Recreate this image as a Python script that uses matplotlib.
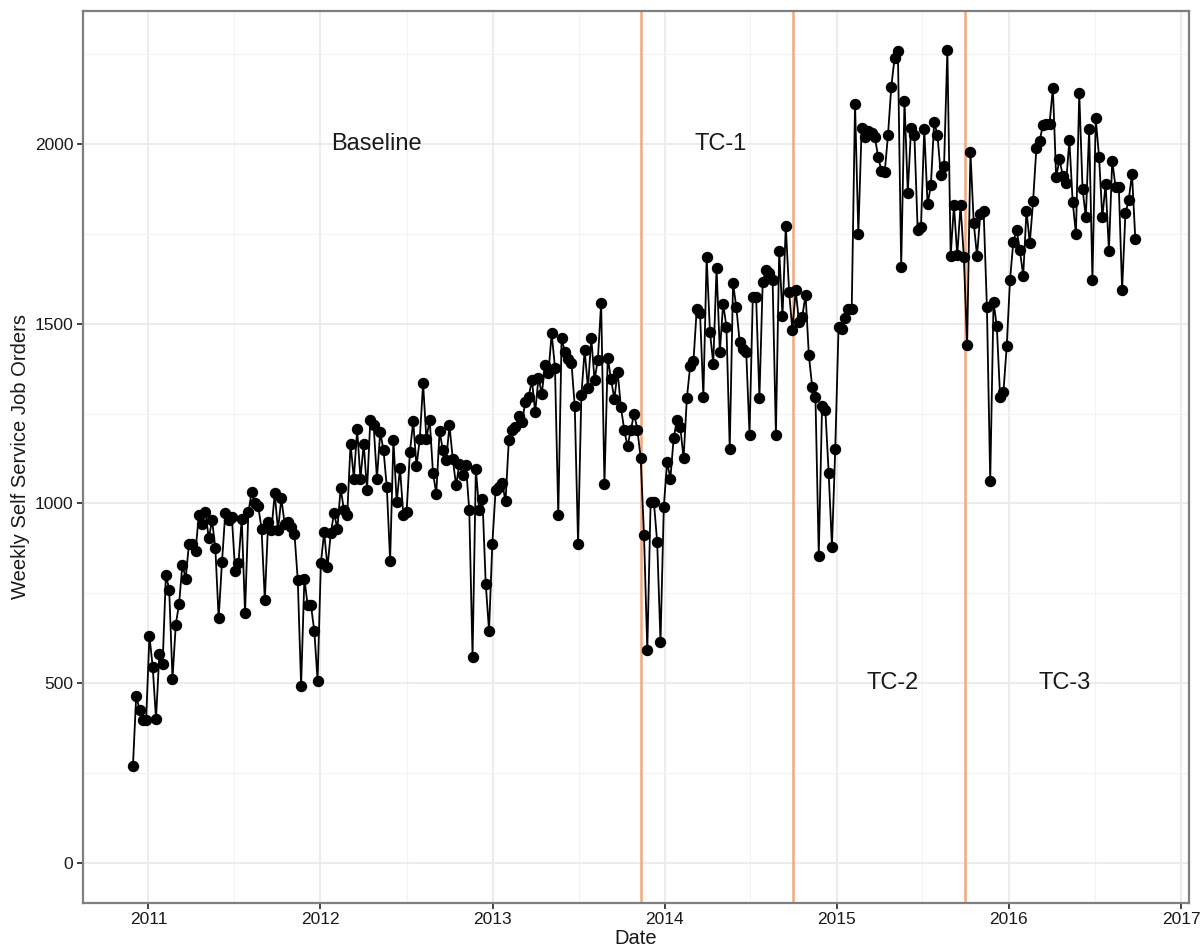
import matplotlib
matplotlib.use("Agg")
import matplotlib.pyplot as plt
import pandas as pd

plt.rcParams["font.family"] = ["Liberation Sans", "DejaVu Sans"]

# weekly self service job orders, first week starting late Nov 2010
START = "2010-11-29"
orders = [
    270, 465, 426, 396, 396, 632, 545, 400, 580, 553,
    802, 760, 512, 663, 721, 830, 791, 888, 888, 869,
    968, 944, 975, 903, 953, 875, 680, 836, 972, 955,
    961, 813, 833, 958, 694, 975, 1031, 1000, 992, 930,
    730, 947, 925, 1028, 925, 1014, 944, 947, 933, 914,
    786, 493, 791, 716, 716, 646, 507, 834, 920, 822,
    917, 974, 929, 1043, 981, 969, 1166, 1069, 1206, 1069,
    1166, 1036, 1233, 1217, 1069, 1198, 1148, 1045, 841, 1177,
    1003, 1099, 967, 976, 1143, 1229, 1103, 1180, 1334, 1180,
    1233, 1085, 1027, 1201, 1148, 1120, 1217, 1124, 1050, 1111,
    1078, 1106, 981, 572, 1097, 981, 1013, 776, 646, 888,
    1038, 1045, 1056, 1006, 1176, 1205, 1213, 1243, 1226, 1282,
    1296, 1343, 1254, 1350, 1305, 1385, 1362, 1473, 1378, 967,
    1459, 1422, 1403, 1391, 1270, 888, 1301, 1427, 1320, 1461,
    1343, 1400, 1558, 1053, 1406, 1345, 1291, 1366, 1268, 1204,
    1159, 1204, 1250, 1204, 1125, 911, 591, 1003, 1003, 892,
    614, 990, 1115, 1069, 1183, 1231, 1213, 1125, 1293, 1382,
    1396, 1542, 1529, 1296, 1685, 1477, 1389, 1654, 1422, 1556,
    1491, 1152, 1612, 1546, 1450, 1431, 1422, 1191, 1575, 1575,
    1293, 1617, 1649, 1640, 1621, 1191, 1703, 1521, 1772, 1589,
    1482, 1594, 1505, 1519, 1581, 1412, 1325, 1295, 855, 1272,
    1260, 1085, 880, 1152, 1490, 1485, 1515, 1542, 1542, 2112,
    1750, 2045, 2020, 2035, 2030, 2020, 1965, 1925, 1922, 2025,
    2160, 2240, 2258, 1658, 2120, 1865, 2045, 2025, 1760, 1770,
    2042, 1832, 1885, 2062, 2025, 1915, 1940, 2262, 1688, 1830,
    1690, 1830, 1685, 1440, 1978, 1780, 1688, 1806, 1813, 1546,
    1063, 1560, 1493, 1296, 1310, 1437, 1622, 1727, 1761, 1704,
    1634, 1815, 1724, 1841, 1989, 2009, 2054, 2056, 2057, 2157,
    1907, 1958, 1912, 1891, 2011, 1840, 1750, 2142, 1875, 1796,
    2042, 1622, 2072, 1965, 1796, 1889, 1702, 1954, 1881, 1881,
    1593, 1807, 1844, 1917, 1736,
]

phase_starts = ["2013-11-11", "2014-10-01", "2015-10-01"]
phase_labels = ["Baseline", "TC-1", "TC-2", "TC-3"]
label_dates = ["2012-04-30", "2014-04-30", "2015-04-30", "2016-04-30"]
label_values = [2000, 2000, 500, 500]

dates = pd.date_range(START, periods=len(orders), freq="7D")

fig = plt.figure(figsize=(12.04, 9.5), dpi=100)
ax = fig.add_axes([83 / 1204, 1 - 902.7 / 950, (1189 - 83) / 1204, (902.7 - 10.7) / 950])

ax.plot(dates, orders, color="black", lw=1.3, marker="o", ms=7.2, zorder=3)

for d in phase_starts:
    ax.axvline(pd.Timestamp(d), color="#f4a77a", lw=1.8, zorder=2)

for lab, d, v in zip(phase_labels, label_dates, label_values):
    ax.text(pd.Timestamp(d), v, lab, ha="center", va="center", fontsize=17, color="#1a1a1a")

years = [pd.Timestamp(f"{y}-01-01") for y in range(2011, 2018)]
ax.set_xticks(years)
ax.set_xticklabels([str(y) for y in range(2011, 2018)])
ax.set_xticks([pd.Timestamp(f"{y}-07-02") for y in range(2011, 2017)], minor=True)
ax.set_yticks([0, 500, 1000, 1500, 2000])
ax.set_yticks([250, 750, 1250, 1750, 2250], minor=True)

# ggplot-ish limits (5% expansion), set after ticks so they stick
ax.set_xlim(pd.Timestamp("2010-08-15"), pd.Timestamp("2017-01-18"))
ax.set_ylim(-111, 2371)

ax.grid(which="major", color="#ebebeb", lw=1.3, zorder=0)
ax.grid(which="minor", color="#f3f3f3", lw=0.8, zorder=0)
ax.set_axisbelow(True)

for s in ax.spines.values():
    s.set_color("#7f7f7f")
    s.set_linewidth(1.6)

ax.tick_params(which="major", length=4, width=1.3, color="#333333", labelsize=12.5, labelcolor="#1a1a1a", pad=3)
ax.tick_params(which="minor", length=0)

ax.set_xlabel("Date", fontsize=14.5, color="#1a1a1a", labelpad=1)
ax.set_ylabel("Weekly Self Service Job Orders", fontsize=14.5, color="#1a1a1a", labelpad=3)

fig.savefig("out.png", dpi=100, facecolor="white")
